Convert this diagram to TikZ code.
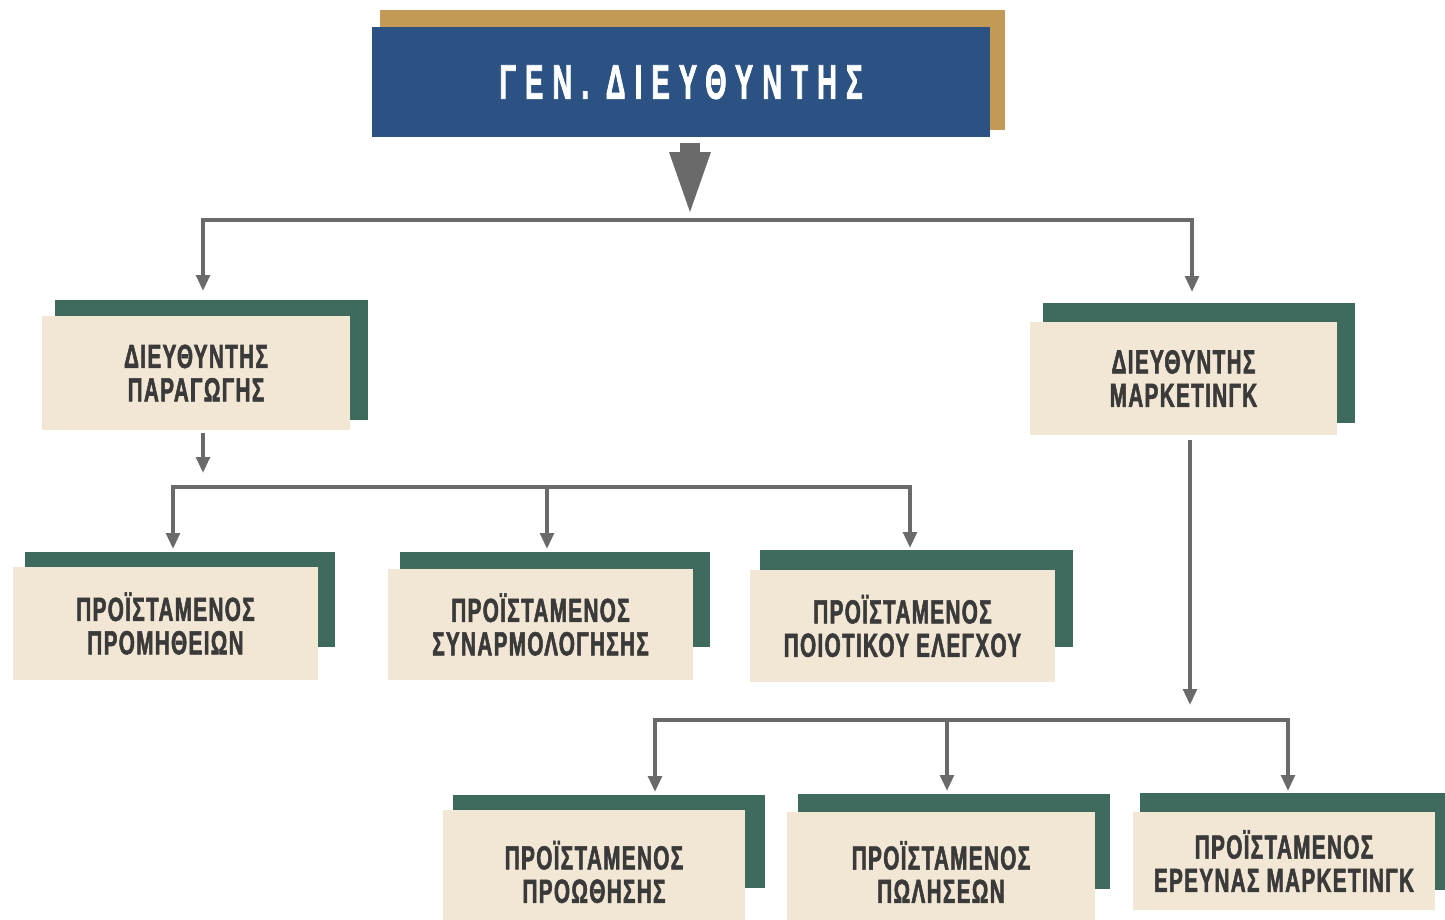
\documentclass[tikz,border=0pt]{standalone}
\usepackage{fontspec}
\setmainfont{Liberation Sans}
\newfontfamily\boxfont[FakeStretch=0.62,FakeBold=1.6,LetterSpace=4]{Liberation Sans Bold}
\newfontfamily\titlefont[FakeStretch=0.56,FakeBold=1.6,LetterSpace=19]{Liberation Sans Bold}
\usetikzlibrary{arrows.meta,calc}

\definecolor{chiefblue}{HTML}{2B5283}
\definecolor{chiefgold}{HTML}{C39A55}
\definecolor{unitbeige}{HTML}{F2E7D5}
\definecolor{unitgreen}{HTML}{3E6B5E}
\definecolor{linegray}{HTML}{6A6A6A}
\definecolor{labelgray}{HTML}{3A3A3A}

\tikzset{
  chiefbox/.style={fill=chiefblue, draw=none, inner sep=0pt, text=white,
    font=\titlefont\fontsize{27.7}{30}\selectfont},
  unitbox/.style={fill=unitbeige, draw=none, inner sep=0pt, align=center,
    text=labelgray, font=\boxfont\fontsize{19}{19}\selectfont},
  goldback/.style={fill=chiefgold},
  greenback/.style={fill=unitgreen},
  conn/.style={draw=linegray, line width=2.2pt},
  bigarrow/.style={draw=linegray, fill=linegray, line width=0.4cm,
    -{Triangle[width=0.84cm,length=1.2cm,line width=0pt]}},
}

\begin{document}
\begin{tikzpicture}[x=0.02cm, y=-0.02cm,
  >={Triangle[width=0.27cm,length=0.32cm]}]
\useasboundingbox (0,0) rectangle (1445,920);
\fill[white] (0,0) rectangle (1445,920);

% offset frames behind the boxes
\fill[goldback]  (380,10)   rectangle (1005,130);
\fill[greenback] (55,300)   rectangle (368,420);
\fill[greenback] (1043,303) rectangle (1355,423);
\fill[greenback] (25,552)   rectangle (335,647);
\fill[greenback] (400,552)  rectangle (710,647);
\fill[greenback] (760,550)  rectangle (1073,647);
\fill[greenback] (453,795)  rectangle (765,888);
\fill[greenback] (798,794)  rectangle (1110,889);
\fill[greenback] (1140,793) rectangle (1450,890);

% boxes
\node[chiefbox, minimum width=12.36cm, minimum height=2.2cm] (gd) at (681,82)
  {ΓΕΝ. ΔΙΕΥΘΥΝΤΗΣ};
\node[unitbox, minimum width=6.16cm, minimum height=2.28cm] (pa) at (196,373)
  {ΔΙΕΥΘΥΝΤΗΣ\\ΠΑΡΑΓΩΓΗΣ};
\node[unitbox, minimum width=6.14cm, minimum height=2.26cm] (mk) at (1183.5,378.5)
  {ΔΙΕΥΘΥΝΤΗΣ\\ΜΑΡΚΕΤΙΝΓΚ};
\node[unitbox, minimum width=6.10cm, minimum height=2.26cm] (pr) at (165.5,623.5)
  {ΠΡΟΪΣΤΑΜΕΝΟΣ\\ΠΡΟΜΗΘΕΙΩΝ};
\node[unitbox, minimum width=6.10cm, minimum height=2.24cm] (sy) at (540.5,624.5)
  {ΠΡΟΪΣΤΑΜΕΝΟΣ\\ΣΥΝΑΡΜΟΛΟΓΗΣΗΣ};
\node[unitbox, minimum width=6.10cm, minimum height=2.24cm] (po) at (902.5,626)
  {ΠΡΟΪΣΤΑΜΕΝΟΣ\\ΠΟΙΟΤΙΚΟΥ ΕΛΕΓΧΟΥ};
\node[unitbox, minimum width=6.04cm, minimum height=2.48cm] (pw) at (594,872)
  {ΠΡΟΪΣΤΑΜΕΝΟΣ\\ΠΡΟΩΘΗΣΗΣ};
\node[unitbox, minimum width=6.16cm, minimum height=2.40cm] (pl) at (941,872)
  {ΠΡΟΪΣΤΑΜΕΝΟΣ\\ΠΩΛΗΣΕΩΝ};
\node[unitbox, minimum width=6.04cm, minimum height=1.96cm] (er) at (1284,861)
  {ΠΡΟΪΣΤΑΜΕΝΟΣ\\ΕΡΕΥΝΑΣ ΜΑΡΚΕΤΙΝΓΚ};

% connector end points and bus levels
\coordinate (hub)    at (690,212);
\coordinate (bus1)   at (0,220);
\coordinate (pa-in)  at (203,291);
\coordinate (mk-in)  at (1192,292);
\coordinate (pa-out) at (203,473);
\coordinate (bus2)   at (0,487);
\coordinate (pr-in)  at (173,549);
\coordinate (sy-in)  at (547,549);
\coordinate (po-in)  at (910,548);
\coordinate (mk-out) at (1190,705);
\coordinate (bus3)   at (0,720);
\coordinate (pw-in)  at (655,792);
\coordinate (pl-in)  at (947,791);
\coordinate (er-in)  at (1288,791);

% connectors
\draw[bigarrow, shorten <=0.12cm] (gd.south -| hub) -- (hub);
\draw[conn,<->] (pa-in) -- (pa-in |- bus1) -- (mk-in |- bus1) -- (mk-in);

\draw[conn,->, shorten <=0.06cm] (pa.south -| pa-out) -- (pa-out);
\draw[conn,<->] (pr-in) -- (pr-in |- bus2) -- (po-in |- bus2) -- (po-in);
\draw[conn,->] (sy-in |- bus2) -- (sy-in);

\draw[conn,->, shorten <=0.1cm] (mk.south -| mk-out) -- (mk-out);
\draw[conn,<->] (pw-in) -- (pw-in |- bus3) -- (er-in |- bus3) -- (er-in);
\draw[conn,->] (pl-in |- bus3) -- (pl-in);
\end{tikzpicture}
\end{document}
